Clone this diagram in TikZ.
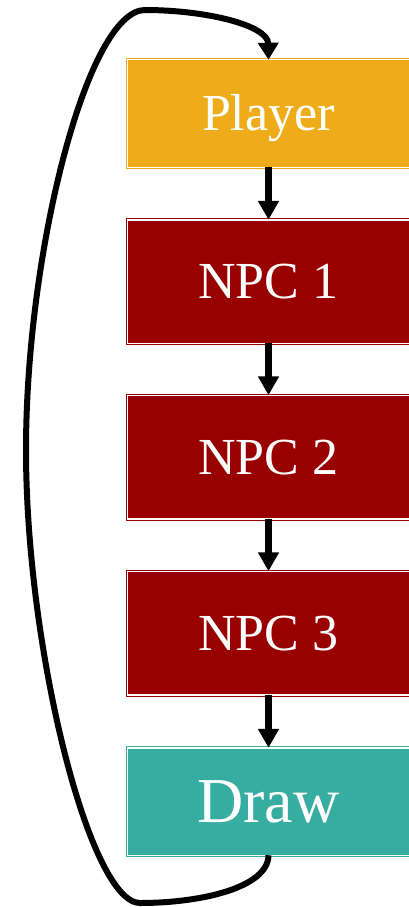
\documentclass[tikz,border=0pt]{standalone}
\usepackage{fontspec}
\setmainfont{Liberation Serif}
\usetikzlibrary{arrows.meta}
\definecolor{gold}{HTML}{EEAC1A}
\definecolor{crimson}{HTML}{990000}
\definecolor{teal}{HTML}{37ADA2}
\tikzset{
  stage/.style={draw=#1, fill=#1, line width=1pt, double=white, double distance=1.5pt,
    minimum width=282.5pt, outer sep=0pt, inner sep=0pt, text=white,
    text height=34.5pt, text depth=0pt, font=\fontsize{52}{60}\selectfont},
  bigtext/.style={text height=42.5pt, font=\fontsize{64}{72}\selectfont},
  flow/.style={line width=7pt, -{Triangle[width=20pt,length=19pt]}},
  loop/.style={line width=6pt, -{Triangle[width=20pt,length=17pt]}}
}
\begin{document}
\begin{tikzpicture}[x=1pt,y=-1pt]
  \useasboundingbox (0,0) rectangle (408,907);
  \node[stage=gold,    minimum height=107.5pt] (player) at (268.5,113.5) {Player};
  \node[stage=crimson, minimum height=123.5pt] (npc1)   at (268.5,281.5) {NPC 1};
  \node[stage=crimson, minimum height=123.5pt] (npc2)   at (268.5,457)   {NPC 2};
  \node[stage=crimson, minimum height=123.5pt] (npc3)   at (268.5,633)   {NPC 3};
  \node[stage=teal,    minimum height=107.5pt, bigtext] (draw) at (268.5,801.5) {Draw};

  \draw[flow] (player) -- (npc1);
  \draw[flow] (npc1) -- (npc2);
  \draw[flow] (npc2) -- (npc3);
  \draw[flow] (npc3) -- (draw);

  % loop back from Draw to Player around the left side
  \draw[loop] (draw.south) .. controls (268,888) and (200,903) .. (140,903)
    .. controls (90,903) and (26,650) .. (26,450)
    .. controls (26,250) and (88,10) .. (145,10)
    .. controls (205,10) and (268,25) .. (player.north);
\end{tikzpicture}
\end{document}
